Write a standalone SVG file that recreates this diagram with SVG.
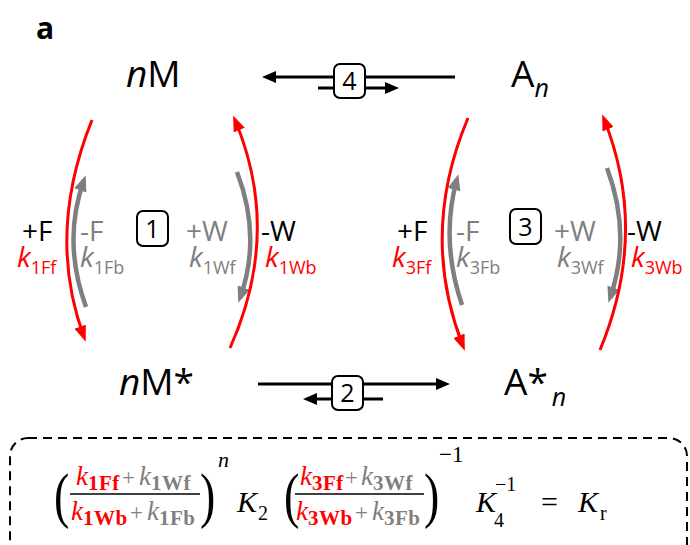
<svg xmlns="http://www.w3.org/2000/svg" width="690" height="545" viewBox="0 0 690 545">
<style>
.lbl{font-family:"Open Sans","Liberation Sans",sans-serif;}
.big{font-size:37px;fill:#000;}
.mid{font-size:28px;}
.sub{font-size:18px;}
.blk{fill:#000;}
.red{fill:#ff0000;}
.gry{fill:#7f7f7f;}
.box{fill:#fff;stroke:#000;stroke-width:2;}
.ln{fill:none;stroke:#000;stroke-width:3;}
.rarc{fill:none;stroke:#ff0000;stroke-width:3;}
.garc{fill:none;stroke:#7f7f7f;stroke-width:4.5;}
.eq{font-family:"Liberation Serif","DejaVu Serif",serif;}
.ek{font-size:27px;font-style:italic;}
.es{font-size:21px;font-weight:bold;letter-spacing:0.5px;}
.ep{font-size:23px;}
</style>
<defs>
<marker id="ab" markerUnits="userSpaceOnUse" viewBox="0 0 14 12" markerWidth="14" markerHeight="12" refX="10" refY="6" orient="auto"><path d="M0,0 L14,6 L0,12 z" fill="#000"/></marker>
<marker id="ar" markerUnits="userSpaceOnUse" viewBox="0 0 16 12" markerWidth="16" markerHeight="12" refX="11" refY="6" orient="auto"><path d="M0,0 L16,6 L0,12 z" fill="#ff0000"/></marker>
<marker id="ag" markerUnits="userSpaceOnUse" viewBox="0 0 16 13" markerWidth="16" markerHeight="13" refX="11" refY="6.5" orient="auto"><path d="M0,0 L16,6.5 L0,13 z" fill="#7f7f7f"/></marker>
</defs>

<text class="lbl" x="36" y="39" font-size="30" font-weight="bold">a</text>

<g id="connectors">
<path class="ln" d="M455,77 L266,77" marker-end="url(#ab)"/>
<path class="ln" d="M318,88 L395,88" marker-end="url(#ab)"/>
<path class="ln" d="M258,384 L446,384" marker-end="url(#ab)"/>
<path class="ln" d="M383,399 L307,399" marker-end="url(#ab)"/>
<path class="rarc" d="M92,120 Q46,234 84,337" marker-end="url(#ar)"/>
<path class="garc" d="M86,307 Q62,241 84,180" marker-end="url(#ag)"/>
<path class="garc" d="M237,172 Q262,237 240,298" marker-end="url(#ag)"/>
<path class="rarc" d="M230,348 Q282,232 235,120" marker-end="url(#ar)"/>
<path class="rarc" d="M468,118 Q419,234 463,346" marker-end="url(#ar)"/>
<path class="garc" d="M462,305 Q440,240 457,179" marker-end="url(#ag)"/>
<path class="garc" d="M607,168 Q632,235 610,298" marker-end="url(#ag)"/>
<path class="rarc" d="M600,350 Q649,232 604,119" marker-end="url(#ar)"/>
</g>

<g id="node-nM"><text class="lbl big" x="126" y="87"><tspan font-style="italic">n</tspan>M</text></g>
<g id="node-An"><text class="lbl big" x="511" y="87">A<tspan font-size="25" font-style="italic" dy="10">n</tspan></text></g>
<g id="node-nMstar"><text class="lbl big" x="119" y="395"><tspan font-style="italic">n</tspan>M*</text></g>
<g id="node-Anstar"><text class="lbl big" x="504" y="395">A*<tspan font-size="25" font-style="italic" dx="4" dy="11">n</tspan></text></g>

<g id="step4"><rect class="box" x="334" y="64" width="31" height="34" rx="6"/><text class="lbl blk" x="349.5" y="90" font-size="25" text-anchor="middle">4</text></g>
<g id="step2"><rect class="box" x="332" y="376" width="31" height="34" rx="6"/><text class="lbl blk" x="347.5" y="402" font-size="25" text-anchor="middle">2</text></g>
<g id="step1"><rect class="box" x="137" y="211" width="31" height="35" rx="6"/><text class="lbl blk" x="152.5" y="238" font-size="25" text-anchor="middle">1</text></g>
<g id="step3"><rect class="box" x="510" y="209" width="31" height="35" rx="6"/><text class="lbl blk" x="525.5" y="236" font-size="25" text-anchor="middle">3</text></g>

<g id="labels1">
<text class="lbl mid blk" x="22" y="241">+F</text>
<text class="lbl mid red" x="17" y="267"><tspan font-style="italic">k</tspan><tspan class="sub" dy="7">1Ff</tspan></text>
<text class="lbl mid gry" x="80" y="241">-F</text>
<text class="lbl mid gry" x="80" y="267"><tspan font-style="italic">k</tspan><tspan class="sub" dy="7">1Fb</tspan></text>
<text class="lbl mid gry" x="186" y="241">+W</text>
<text class="lbl mid gry" x="189" y="267"><tspan font-style="italic">k</tspan><tspan class="sub" dy="7">1Wf</tspan></text>
<text class="lbl mid blk" x="261" y="241">-W</text>
<text class="lbl mid red" x="265" y="267"><tspan font-style="italic">k</tspan><tspan class="sub" dy="7">1Wb</tspan></text>
</g>
<g id="labels3">
<text class="lbl mid blk" x="397" y="241">+F</text>
<text class="lbl mid red" x="392" y="267"><tspan font-style="italic">k</tspan><tspan class="sub" dy="7">3Ff</tspan></text>
<text class="lbl mid gry" x="456" y="241">-F</text>
<text class="lbl mid gry" x="456" y="267"><tspan font-style="italic">k</tspan><tspan class="sub" dy="7">3Fb</tspan></text>
<text class="lbl mid gry" x="554" y="241">+W</text>
<text class="lbl mid gry" x="557" y="267"><tspan font-style="italic">k</tspan><tspan class="sub" dy="7">3Wf</tspan></text>
<text class="lbl mid blk" x="627" y="241">-W</text>
<text class="lbl mid red" x="631" y="267"><tspan font-style="italic">k</tspan><tspan class="sub" dy="7">3Wb</tspan></text>
</g>

<g id="equation-box">
<rect x="10" y="438" width="677" height="130" rx="18" fill="none" stroke="#000" stroke-width="2" stroke-dasharray="9 6"/>
<g class="eq">
<text transform="translate(54,516) scale(1,1.35)" font-size="46">(</text>
<text x="76" y="485" class="ek red">k</text>
<text x="88" y="490" class="es red">1Ff</text>
<text x="122" y="485" class="ep gry">+</text>
<text x="139" y="485" class="ek gry">k</text>
<text x="151" y="490" class="es gry">1Wf</text>
<line x1="70" y1="494" x2="200" y2="494" stroke="#000" stroke-width="1.6"/>
<text x="71" y="520" class="ek red">k</text>
<text x="83" y="525" class="es red">1Wb</text>
<text x="130" y="520" class="ep gry">+</text>
<text x="147" y="520" class="ek gry">k</text>
<text x="159" y="525" class="es gry">1Fb</text>
<text transform="translate(200,516) scale(1,1.35)" font-size="46">)</text>
<text x="218" y="467" font-size="22" font-style="italic">n</text>
<text x="237" y="512" font-size="30" font-style="italic">K</text>
<text x="258" y="520" font-size="20">2</text>
<text transform="translate(284,516) scale(1,1.35)" font-size="46">(</text>
<text x="300" y="485" class="ek red">k</text>
<text x="312" y="490" class="es red">3Ff</text>
<text x="345" y="485" class="ep gry">+</text>
<text x="361" y="485" class="ek gry">k</text>
<text x="373" y="490" class="es gry">3Wf</text>
<line x1="295" y1="494" x2="424" y2="494" stroke="#000" stroke-width="1.6"/>
<text x="296" y="520" class="ek red">k</text>
<text x="308" y="525" class="es red">3Wb</text>
<text x="355" y="520" class="ep gry">+</text>
<text x="372" y="520" class="ek gry">k</text>
<text x="384" y="525" class="es gry">3Fb</text>
<text transform="translate(424,516) scale(1,1.35)" font-size="46">)</text>
<text x="439" y="462" font-size="23">−1</text>
<text x="476" y="512" font-size="30" font-style="italic">K</text>
<text x="494" y="527" font-size="20">4</text>
<text x="495" y="491" font-size="20">−1</text>
<text x="541" y="512" font-size="30">=</text>
<text x="578" y="512" font-size="30" font-style="italic">K</text>
<text x="600" y="520" font-size="20">r</text>
</g>
</g>
</svg>
